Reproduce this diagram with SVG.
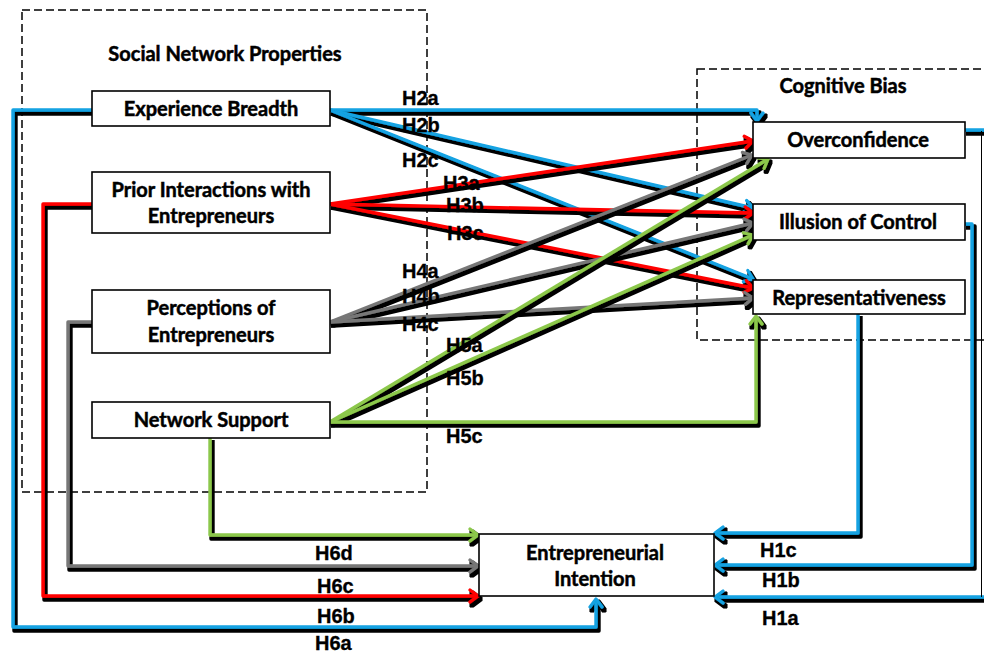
<svg xmlns="http://www.w3.org/2000/svg" width="984" height="654" viewBox="0 0 984 654">
  <style>
    .box { fill: #ffffff; stroke: #000000; stroke-width: 1.6; }
    .frame { fill: none; stroke: #000000; stroke-width: 1.5; stroke-dasharray: 8 4; }
    .nt { font-family: Lato, "Open Sans", sans-serif; font-weight: bold; font-size: 20px; fill: #000000; stroke: #000000; stroke-width: 0.5; text-anchor: middle; }
    .lb { font-family: "Liberation Sans", Arial, sans-serif; font-weight: bold; font-size: 20px; fill: #000000; stroke: #000000; stroke-width: 0.3; }
    .c { fill: none; stroke-width: 3.4; stroke-linejoin: round; filter: url(#shadow); }
    .blue { stroke: #12A2E2; }
    .red { stroke: #FF0000; }
    .gray { stroke: #777777; }
    .green { stroke: #8CC84B; }
    .blue.a { marker-end: url(#ah-blue); }
    .red.a { marker-end: url(#ah-red); }
    .gray.a { marker-end: url(#ah-gray); }
    .green.a { marker-end: url(#ah-green); }
  </style>
  <defs>
    <!-- hard black offset shadow under every connector -->
    <filter id="shadow" filterUnits="userSpaceOnUse" x="-20" y="-20" width="1040" height="700">
      <feOffset in="SourceAlpha" dx="2" dy="3" result="off"/>
      <feMorphology in="off" operator="dilate" radius="0.7" result="thick"/>
      <feMerge>
        <feMergeNode in="thick"/>
        <feMergeNode in="SourceGraphic"/>
      </feMerge>
    </filter>
    <marker id="ah-blue" viewBox="-11 -8 14 16" refX="0" refY="0" markerWidth="14" markerHeight="16" markerUnits="userSpaceOnUse" orient="auto">
      <path d="M-8,-6 L0,0 L-8,6" fill="none" stroke="#12A2E2" stroke-width="3.2" stroke-linecap="round" stroke-linejoin="round"/>
    </marker>
    <marker id="ah-red" viewBox="-11 -8 14 16" refX="0" refY="0" markerWidth="14" markerHeight="16" markerUnits="userSpaceOnUse" orient="auto">
      <path d="M-8,-6 L0,0 L-8,6" fill="none" stroke="#FF0000" stroke-width="3.2" stroke-linecap="round" stroke-linejoin="round"/>
    </marker>
    <marker id="ah-gray" viewBox="-11 -8 14 16" refX="0" refY="0" markerWidth="14" markerHeight="16" markerUnits="userSpaceOnUse" orient="auto">
      <path d="M-8,-6 L0,0 L-8,6" fill="none" stroke="#777777" stroke-width="3.2" stroke-linecap="round" stroke-linejoin="round"/>
    </marker>
    <marker id="ah-green" viewBox="-11 -8 14 16" refX="0" refY="0" markerWidth="14" markerHeight="16" markerUnits="userSpaceOnUse" orient="auto">
      <path d="M-8,-6 L0,0 L-8,6" fill="none" stroke="#8CC84B" stroke-width="3.2" stroke-linecap="round" stroke-linejoin="round"/>
    </marker>
  </defs>

  <rect width="984" height="654" fill="#ffffff"/>

  <!-- dashed groupings -->
  <g id="social-network-properties">
    <rect class="frame" x="22" y="10" width="405" height="482"/>
    <text class="nt" x="225" y="61">Social Network Properties</text>
  </g>
  <g id="cognitive-bias">
    <rect class="frame" x="697" y="69" width="320" height="271"/>
    <text class="nt" x="843" y="93">Cognitive Bias</text>
  </g>

  <!-- connectors -->
  <g id="connectors">
    <!-- H6: network properties to intention -->
    <path class="c green a" d="M210,438 V535 H478"/>
    <path class="c gray a" d="M92,322 H68 V566 H478"/>
    <path class="c red a" d="M92,204 H43 V596 H478"/>
    <path class="c blue a" d="M92,110 H13 V627 H596 V599"/>
    <!-- H1: cognitive bias to intention -->
    <path class="c blue a" d="M858,314 V533 H715"/>
    <path class="c blue a" d="M965,224 H972 V565 H715"/>
    <path class="c blue a" d="M965,130 H988 V597 H715"/>
    <line x1="981.5" y1="131" x2="981.5" y2="597" stroke="#000000" stroke-width="1"/>
    <!-- H2: experience breadth -->
    <path class="c blue a" d="M330,110 H757 V121"/>
    <path class="c blue a" d="M330,110 L753,208"/>
    <path class="c blue a" d="M330,110 L753,279"/>
    <!-- H3: prior interactions -->
    <path class="c red a" d="M330,204 L753,141"/>
    <path class="c red a" d="M330,204 L753,213"/>
    <path class="c red a" d="M330,204 L753,288"/>
    <!-- H4: perceptions -->
    <path class="c gray a" d="M330,322 L752,155"/>
    <path class="c gray a" d="M330,322 L753,223"/>
    <path class="c gray a" d="M330,322 L753,298"/>
    <!-- H5: network support -->
    <path class="c green a" d="M330,422 L768,159"/>
    <path class="c green a" d="M330,422 L753,235"/>
    <path class="c green a" d="M330,422 H756 V316"/>
  </g>

  <!-- hypothesis labels -->
  <g id="labels">
    <text class="lb" x="402" y="105">H2a</text>
    <text class="lb" x="402" y="132">H2b</text>
    <text class="lb" x="402" y="167">H2c</text>
    <text class="lb" x="443" y="190">H3a</text>
    <text class="lb" x="446" y="212">H3b</text>
    <text class="lb" x="447" y="240">H3c</text>
    <text class="lb" x="402" y="278">H4a</text>
    <text class="lb" x="402" y="303">H4b</text>
    <text class="lb" x="402" y="331">H4c</text>
    <text class="lb" x="446" y="352">H5a</text>
    <text class="lb" x="446" y="385">H5b</text>
    <text class="lb" x="446" y="443">H5c</text>
    <text class="lb" x="315" y="560">H6d</text>
    <text class="lb" x="317" y="593">H6c</text>
    <text class="lb" x="317" y="623">H6b</text>
    <text class="lb" x="315" y="650">H6a</text>
    <text class="lb" x="760" y="557">H1c</text>
    <text class="lb" x="762" y="587">H1b</text>
    <text class="lb" x="762" y="625">H1a</text>
  </g>

  <!-- nodes -->
  <g id="experience-breadth">
    <rect class="box" x="92" y="91" width="238" height="35"/>
    <text class="nt" x="211" y="116">Experience Breadth</text>
  </g>
  <g id="prior-interactions">
    <rect class="box" x="92" y="172" width="238" height="61"/>
    <text class="nt" x="211" y="197">Prior Interactions with</text>
    <text class="nt" x="211" y="223">Entrepreneurs</text>
  </g>
  <g id="perceptions">
    <rect class="box" x="92" y="290" width="238" height="63"/>
    <text class="nt" x="211" y="315">Perceptions of</text>
    <text class="nt" x="211" y="342">Entrepreneurs</text>
  </g>
  <g id="network-support">
    <rect class="box" x="92" y="402" width="238" height="36"/>
    <text class="nt" x="211" y="427">Network Support</text>
  </g>
  <g id="overconfidence">
    <rect class="box" x="753" y="122" width="212" height="36"/>
    <text class="nt" x="858" y="147">Overconfidence</text>
  </g>
  <g id="illusion-of-control">
    <rect class="box" x="753" y="204" width="212" height="36"/>
    <text class="nt" x="858" y="229">Illusion of Control</text>
  </g>
  <g id="representativeness">
    <rect class="box" x="753" y="280" width="212" height="34"/>
    <text class="nt" x="859" y="305">Representativeness</text>
  </g>
  <g id="entrepreneurial-intention">
    <rect class="box" x="479" y="534" width="235" height="62"/>
    <text class="nt" x="595" y="560">Entrepreneurial</text>
    <text class="nt" x="595" y="586">Intention</text>
  </g>
</svg>
